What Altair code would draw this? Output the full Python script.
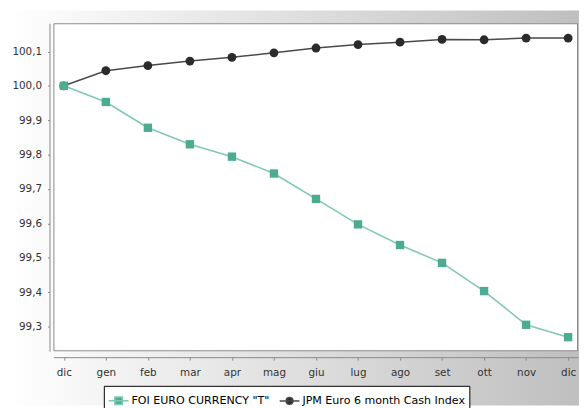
import json
import altair as alt
import pandas as pd

# ---- data ----
months = ["dic", "gen", "feb", "mar", "apr", "mag", "giu", "lug", "ago", "set", "ott", "nov", "dic"]
series_names = ['FOI EURO CURRENCY "T"', "JPM Euro 6 month Cash Index"]
foi_values = [100.000, 99.953, 99.878, 99.830, 99.794, 99.745, 99.671, 99.597,
              99.537, 99.485, 99.403, 99.305, 99.269]
jpm_values = [100.000, 100.044, 100.059, 100.072, 100.083, 100.096, 100.110, 100.120,
              100.127, 100.135, 100.134, 100.139, 100.139]
y_ticks = [99.3, 99.4, 99.5, 99.6, 99.7, 99.8, 99.9, 100.0, 100.1]

rows = []
for name, vals in zip(series_names, [foi_values, jpm_values]):
    for i, v in enumerate(vals):
        rows.append({"idx": i, "month": months[i], "value": v, "series": name})
df = pd.DataFrame(rows)

# ---- layout ----
W, H = 531, 332
PAD = {"left": 46, "top": 13, "right": 1, "bottom": 55}
teal_fill = "#4dab92"
teal_line = "#80c9b4"
dark_fill = "#2b2b2b"
dark_line = "#4a4a4a"

label_expr = json.dumps(months) + "[datum.value]"

x_enc = alt.X(
    "idx:Q",
    scale=alt.Scale(domain=[-0.247, 12.235], nice=False, zero=False),
    axis=alt.Axis(values=list(range(len(months))), labelExpr=label_expr, title=None,
                  grid=False, offset=6, tickSize=3, labelPadding=8,
                  domainColor="#8a8a8a", tickColor="#8a8a8a", labelColor="#333333",
                  labelFont="DejaVu Sans", labelFontSize=10.5, zindex=1,
                  labelFlush=False, labelOverlap=False),
)
y_enc = alt.Y(
    "value:Q",
    scale=alt.Scale(domain=[99.228, 100.182], nice=False, zero=False),
    axis=alt.Axis(values=y_ticks, labelExpr="replace(format(datum.value, '.1f'), '.', ',')",
                  title=None, grid=False, offset=4, tickSize=2, labelPadding=6,
                  domainColor="#8a8a8a", tickColor="#8a8a8a", labelColor="#333333",
                  labelFont="DejaVu Sans", labelFontSize=10.5, zindex=1,
                  labelFlush=False, labelOverlap=False),
)

one = alt.Data(values=[{}])

gradient = alt.Gradient(
    gradient="linear",
    stops=[alt.GradientStop(color="#ffffff", offset=0),
           alt.GradientStop(color="#bfbfbf", offset=1)],
    x1=0, x2=1, y1=0, y2=0,
)
bg = alt.Chart(one).mark_rect(fill=gradient, strokeWidth=0).encode(
    x=alt.value(-PAD["left"]), x2=alt.value(W + PAD["right"]),
    y=alt.value(-PAD["top"]), y2=alt.value(H + PAD["bottom"]),
)
frame = alt.Chart(one).mark_rect(fill="white", stroke="#8a8a8a", strokeWidth=1).encode(
    x=alt.value(0.5), x2=alt.value(W - 0.5), y=alt.value(0.5), y2=alt.value(H - 0.5),
)

base = alt.Chart(df)
foi_only = base.transform_filter(alt.datum.series == series_names[0])
jpm_only = base.transform_filter(alt.datum.series == series_names[1])

jpm_line = jpm_only.mark_line(strokeWidth=1.6, color=dark_line).encode(x=x_enc, y=y_enc)
foi_line = foi_only.mark_line(strokeWidth=1.6, color=teal_line).encode(x="idx:Q", y="value:Q")

circles = jpm_only.mark_point(
    shape="circle", filled=True, size=80, color=dark_fill, opacity=1
).encode(x="idx:Q", y="value:Q")

squares = foi_only.mark_point(
    shape="square", filled=True, size=72, color=teal_fill, opacity=1
).encode(x="idx:Q", y="value:Q")

sq_path = "M-1,0H1M-0.38,-0.38H0.38V0.38H-0.38Z"
ci_path = "M-1,0H1M-0.34,0A0.34,0.34 0 1,0 0.34,0A0.34,0.34 0 1,0 -0.34,0Z"

leg = alt.Legend(title=None, orient="none", legendX=51, legendY=367, direction="horizontal",
                 strokeColor="black", fillColor="white", padding=4, cornerRadius=0,
                 symbolSize=400, symbolStrokeWidth=1.5, symbolOpacity=1,
                 labelFont="DejaVu Sans", labelFontSize=11.2, labelColor="black",
                 labelOffset=2, columnPadding=7, labelLimit=400, zindex=2)

legend_layer = base.mark_point(filled=True, opacity=0).encode(
    x="idx:Q", y="value:Q",
    fill=alt.Fill("series:N", scale=alt.Scale(domain=series_names, range=[teal_fill, dark_fill]), legend=leg),
    stroke=alt.Stroke("series:N", scale=alt.Scale(domain=series_names, range=[teal_line, dark_line]), legend=leg),
    shape=alt.Shape("series:N", scale=alt.Scale(domain=series_names, range=[sq_path, ci_path]), legend=leg),
)

chart = alt.layer(bg, frame, jpm_line, foi_line, circles, squares, legend_layer).properties(
    width=W, height=H,
    autosize=alt.AutoSizeParams(type="none"),
    padding=PAD,
    background="white",
).configure_view(stroke=None)

chart.save("out.html", embed_options={"renderer": "svg", "actions": False})
